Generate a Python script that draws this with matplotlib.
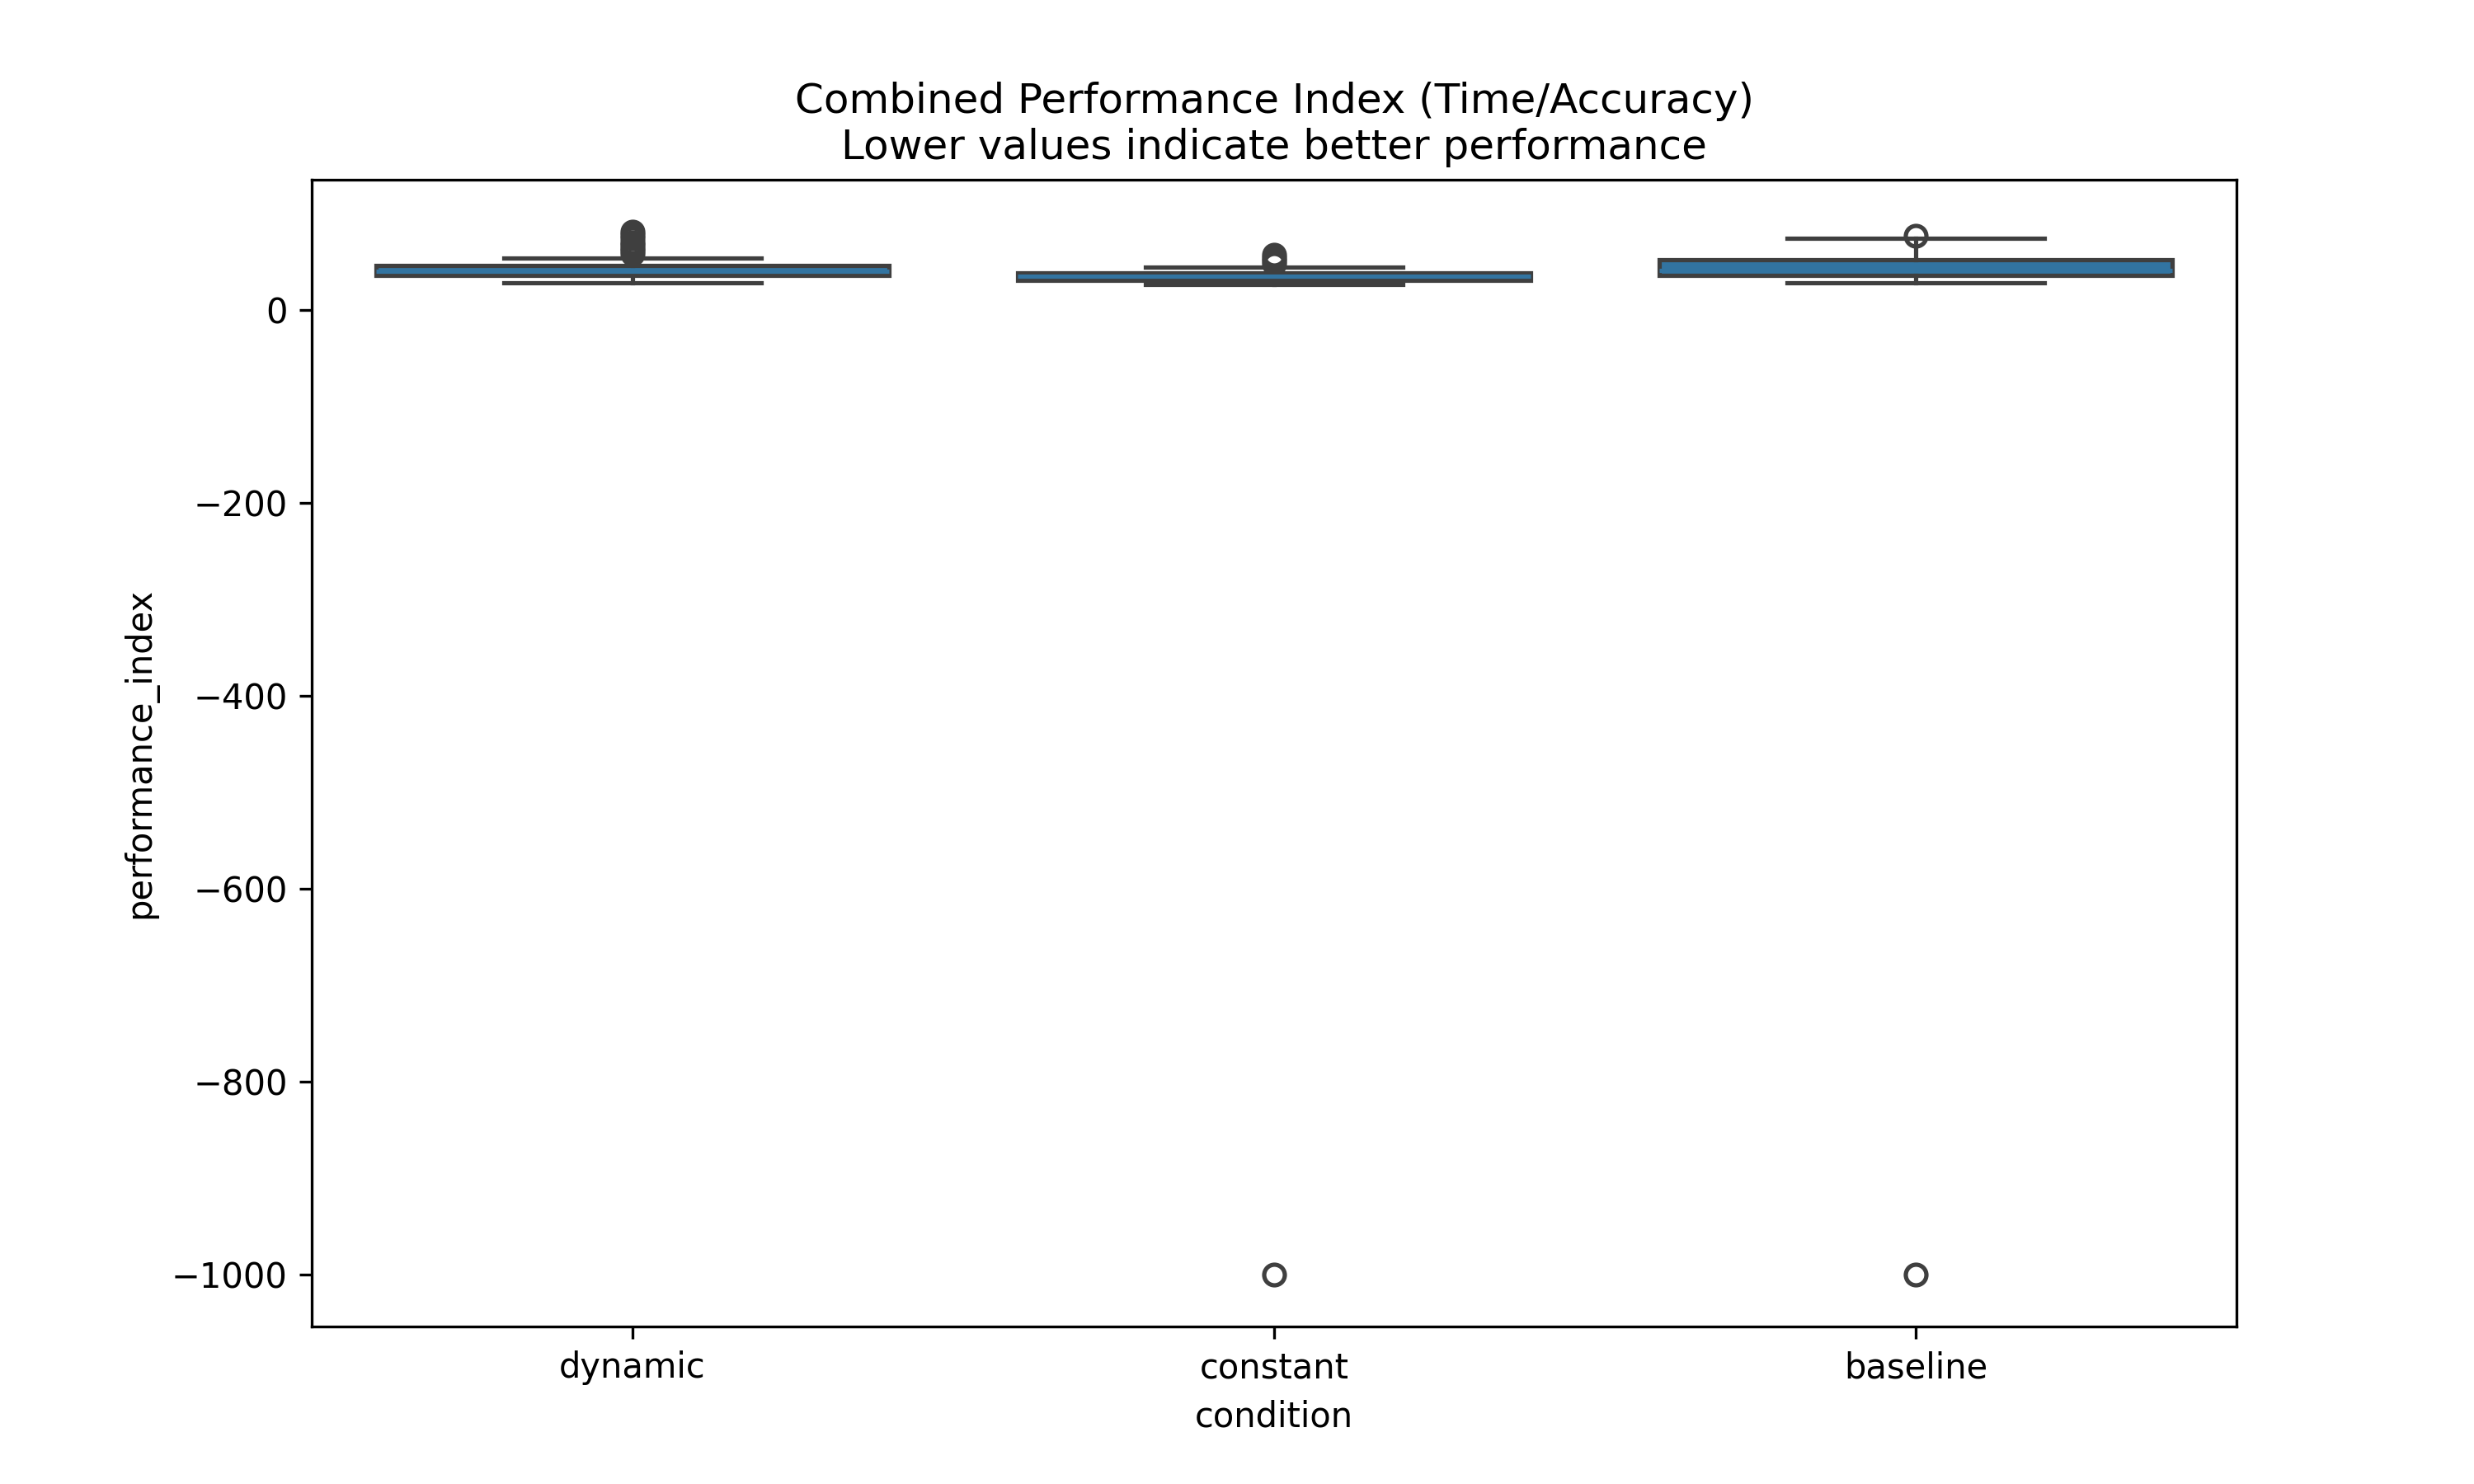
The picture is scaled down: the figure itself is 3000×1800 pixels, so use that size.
import matplotlib.pyplot as plt

conditions = ['dynamic', 'constant', 'baseline']
q1 = [36, 31, 36]
med = [40, 35, 41]
q3 = [46, 38, 52]
whisk_lo = [28, 26, 28]
whisk_hi = [54, 44, 74]
fliers = [
    [58, 61, 64, 67, 70, 74, 78, 81],
    [48, 51, 54, 57, -1000],
    [77, -1000],
]

stats = []
for i, c in enumerate(conditions):
    stats.append(dict(label=c, q1=q1[i], med=med[i], q3=q3[i],
                      whislo=whisk_lo[i], whishi=whisk_hi[i], fliers=fliers[i]))

fig = plt.figure(figsize=(10, 6))
ax = fig.add_axes([0.126, 0.106, 0.778, 0.773])

line_c = '#3f3f3f'
ax.bxp(stats, positions=[0, 1, 2], widths=0.8, patch_artist=True,
       boxprops=dict(facecolor='#3274a1', edgecolor=line_c, linewidth=1.25),
       medianprops=dict(color='#3274a1', linewidth=1.25),
       whiskerprops=dict(color=line_c, linewidth=1.25),
       capprops=dict(color=line_c, linewidth=1.25),
       capwidths=0.4,
       flierprops=dict(marker='o', markerfacecolor='none', markeredgecolor=line_c,
                       markersize=6, markeredgewidth=1.25))

ax.set_xlim(-0.5, 2.5)
ax.set_xticks([0, 1, 2])
ax.set_xticklabels(conditions)
ax.set_xlabel('condition')
ax.set_ylabel('performance_index')
ax.set_title('Combined Performance Index (Time/Accuracy)\nLower values indicate better performance')

fig.savefig('out.png', dpi=300)
